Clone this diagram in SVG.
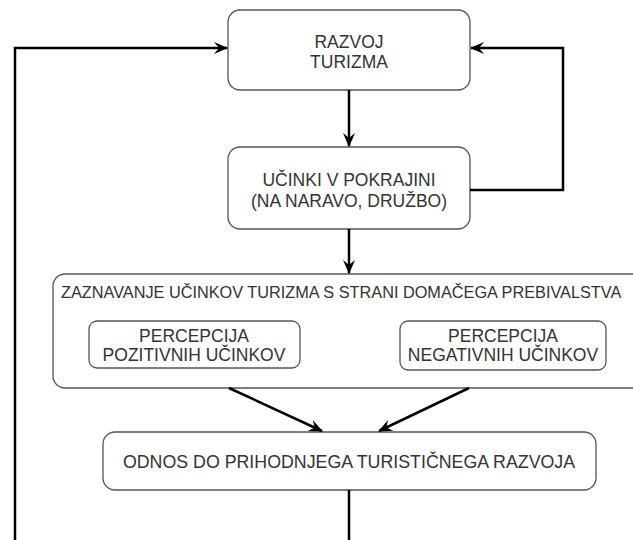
<svg xmlns="http://www.w3.org/2000/svg" width="633" height="540" viewBox="0 0 633 540">
<defs>
<style>
.box{fill:#fff;stroke:#555;stroke-width:1.3}
.t{font-family:"Liberation Sans",Arial,sans-serif;font-size:17.5px;fill:#333;text-anchor:middle}
.c{fill:none;stroke:#000;stroke-width:2.5}
</style>
<marker id="ah" viewBox="0 0 14 14" refX="13" refY="7" markerWidth="14" markerHeight="14" markerUnits="userSpaceOnUse" orient="auto">
<path d="M0,1 L14,7 L0,13 L5,7 Z" fill="#000"/>
</marker>
</defs>
<rect width="633" height="540" fill="#fff"/>
<g id="n1">
<rect class="box" x="228" y="10" width="242" height="80" rx="12"/>
<text class="t" x="349" y="48">RAZVOJ</text>
<text class="t" x="349" y="68">TURIZMA</text>
</g>
<g id="n2">
<rect class="box" x="228" y="147" width="242" height="82" rx="12"/>
<text class="t" x="349" y="186">UČINKI V POKRAJINI</text>
<text class="t" x="349" y="207">(NA NARAVO, DRUŽBO)</text>
</g>
<g id="n3">
<rect class="box" x="53" y="274" width="600" height="114" rx="12"/>
<text class="t" x="61" y="298" style="text-anchor:start;font-size:16.3px">ZAZNAVANJE UČINKOV TURIZMA S STRANI DOMAČEGA PREBIVALSTVA</text>
</g>
<g id="n3a">
<rect class="box" x="89" y="321" width="211" height="47" rx="8"/>
<text class="t" x="194" y="342">PERCEPCIJA</text>
<text class="t" x="194" y="361">POZITIVNIH UČINKOV</text>
</g>
<g id="n3b">
<rect class="box" x="400" y="321" width="206" height="49" rx="8"/>
<text class="t" x="503" y="342">PERCEPCIJA</text>
<text class="t" x="503" y="361">NEGATIVNIH UČINKOV</text>
</g>
<g id="n4">
<rect class="box" x="103" y="432" width="493" height="58" rx="12"/>
<text class="t" x="349" y="468" style="font-size:17.8px">ODNOS DO PRIHODNJEGA TURISTIČNEGA RAZVOJA</text>
</g>
<g id="connectors">
<path class="c" d="M349,90 V146" marker-end="url(#ah)"/>
<path class="c" d="M349,229 V273" marker-end="url(#ah)"/>
<path class="c" d="M470,190 H563 V48 H471" marker-end="url(#ah)"/>
<path class="c" d="M349,490 V540"/>
<path class="c" d="M15,540 V48 H227" marker-end="url(#ah)"/>
<path class="c" d="M229,388 L322,431" marker-end="url(#ah)"/>
<path class="c" d="M469,388 L379,431" marker-end="url(#ah)"/>
</g>
</svg>
